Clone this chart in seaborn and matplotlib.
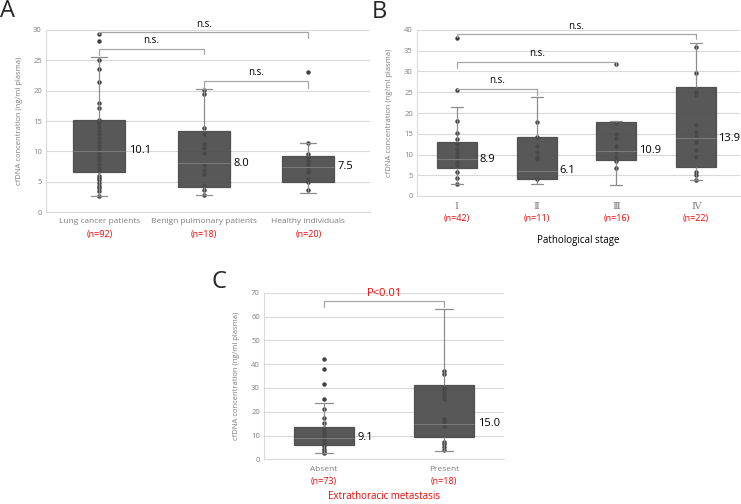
import numpy as np
import pandas as pd
import matplotlib
matplotlib.use("Agg")
import matplotlib.pyplot as plt
import seaborn as sns

# ---- panel A data ----
a_cats = ["Lung cancer patients", "Benign pulmonary patients", "Healthy individuals"]
a_n = ["(n=92)", "(n=18)", "(n=20)"]
a_lo = [2.6, 2.8, 3.1]
a_q1 = [6.6, 4.2, 5.0]
a_med = [10.1, 8.0, 7.5]
a_q3 = [15.1, 13.3, 9.3]
a_hi = [25.5, 20.2, 11.3]
a_pts = [
    [29.4, 28.2, 25.1, 23.6, 21.4, 17.9, 17.1, 15.2, 14.6, 14.0, 13.4, 12.8, 12.2, 11.5,
     10.9, 10.3, 9.7, 9.1, 8.5, 7.9, 7.3, 6.7, 6.0, 5.6, 5.3, 4.8, 4.3, 3.9, 3.5, 2.6],
    [20.1, 19.4, 13.9, 12.9, 11.2, 10.5, 9.7, 7.7, 6.9, 6.3, 4.3, 3.6, 2.8],
    [23.0, 11.3, 9.6, 9.0, 8.4, 7.8, 7.2, 6.6, 5.5, 5.0, 3.6],
]

# ---- panel B data ----
b_cats = ["Ⅰ", "Ⅱ", "Ⅲ", "Ⅳ"]
b_n = ["(n=42)", "(n=11)", "(n=16)", "(n=22)"]
b_lo = [3.0, 2.8, 2.7, 3.8]
b_q1 = [6.8, 4.2, 8.7, 7.1]
b_med = [8.9, 6.1, 10.9, 13.9]
b_q3 = [13.0, 14.3, 17.9, 26.3]
b_hi = [21.4, 23.8, 18.1, 36.9]
b_pts = [
    [38.0, 25.6, 18.0, 15.3, 13.8, 12.5, 11.4, 10.4, 9.5, 8.2, 7.4, 5.8, 4.4, 3.0],
    [17.9, 14.3, 12.0, 10.5, 9.4, 8.8, 4.0],
    [31.9, 17.5, 15.0, 14.0, 12.0, 10.5, 9.5, 8.5, 6.7],
    [35.8, 29.6, 25.0, 24.3, 17.0, 15.5, 14.5, 13.0, 11.0, 9.5, 5.8, 5.1, 3.8],
]

# ---- panel C data ----
c_cats = ["Absent", "Present"]
c_n = ["(n=73)", "(n=18)"]
c_lo = [2.5, 3.6]
c_q1 = [6.0, 9.4]
c_med = [9.1, 15.0]
c_q3 = [13.4, 31.2]
c_hi = [23.6, 63.2]
c_pts = [
    [42.0, 37.9, 31.8, 25.5, 21.3, 17.2, 15.3, 13.0, 12.0, 11.0, 10.0, 9.0, 8.0, 7.0,
     5.4, 4.5, 3.6, 2.5],
    [37.0, 35.8, 30.0, 29.0, 28.0, 26.8, 25.3, 17.0, 15.5, 14.0, 7.1, 6.3, 5.3, 3.8],
]

# brackets: (from, to, y, left end, right end, label)
a_brackets = [(0, 2, 29.6, 29.4, 28.6, "n.s."), (0, 1, 26.9, 25.9, 26.0, "n.s."),
              (1, 2, 21.6, 20.5, 20.5, "n.s.")]
b_brackets = [(0, 3, 39.0, 38.4, 37.8, "n.s."), (0, 2, 32.3, 30.8, 31.5, "n.s."),
              (0, 1, 25.8, 25.5, 24.3, "n.s.")]
c_brackets = [(0, 1, 66.4, 64.0, 64.0, "P<0.01")]

sns.set_style("white")
plt.rcParams["font.family"] = ["Open Sans", "DejaVu Sans"]

W, H = 741, 504
fig = plt.figure(figsize=(W / 100, H / 100), dpi=100)


def px_axes(x0, x1, ytop, ybot):
    return fig.add_axes([x0 / W, 1 - ybot / H, (x1 - x0) / W, (ybot - ytop) / H])


GRID = "#d9d9d9"
TICK = "#7f7f7f"
FILL = (0.29, 0.29, 0.29, 0.92)


def draw_panel(ax, cats, lo, q1, med, q3, hi, pts, ymax, ystep, xlim, nlab,
               brackets, br_color="black", cat_family=None, cat_size=6):
    box_df = pd.DataFrame({
        "cat": np.repeat(cats, 5),
        "val": np.column_stack([lo, q1, med, q3, hi]).ravel(),
    })
    pt_df = pd.DataFrame({
        "cat": np.concatenate([[c] * len(p) for c, p in zip(cats, pts)]),
        "val": np.concatenate(pts),
    })
    sns.stripplot(data=pt_df, x="cat", y="val", order=cats, jitter=False,
                  color="#404040", size=3.2, ax=ax, zorder=1)
    sns.boxplot(data=box_df, x="cat", y="val", order=cats, whis=(0, 100),
                width=0.5, showfliers=False, ax=ax, linewidth=0.9,
                boxprops=dict(facecolor=FILL, edgecolor=FILL),
                medianprops=dict(color="#7a7a7a", linewidth=0.8),
                whiskerprops=dict(color="#8c8c8c", linewidth=0.9),
                capprops=dict(color="#8c8c8c", linewidth=0.9),
                capwidths=0.15)
    for i, m in enumerate(med):
        ax.text(i + 0.28, m, f"{m:.1f}", ha="left", va="center", fontsize=8, color="black")

    ax.set_xlim(*xlim)
    ax.set_ylim(0, ymax)
    ax.set_yticks(np.arange(0, ymax + 0.1, ystep))
    ax.yaxis.grid(True, color=GRID, linewidth=0.8)
    ax.set_axisbelow(True)
    for s in ["top", "right"]:
        ax.spines[s].set_visible(False)
    for s in ["left", "bottom"]:
        ax.spines[s].set_color(GRID)
        ax.spines[s].set_linewidth(0.8)
    ax.tick_params(axis="both", length=0, labelsize=5.5, labelcolor=TICK)
    ax.tick_params(axis="y", pad=3)
    ax.tick_params(axis="x", pad=4.5)
    ax.set_xlabel("")
    ax.set_xticks(range(len(cats)))
    ax.set_xticklabels(cats, family=cat_family or ["Open Sans", "DejaVu Sans"],
                       fontsize=cat_size, color=TICK)
    ax.set_ylabel("cfDNA concentration (ng/ml plasma)", fontsize=5.5, color=TICK)
    for i, t in enumerate(nlab):
        ax.annotate(t, xy=(i, 0), xycoords=("data", "axes fraction"),
                    xytext=(0, -22 * 0.72), textcoords="offset points",
                    ha="center", va="center", fontsize=6.5, color="#ff0000")
    for x1, x2, y, yl, yr, lab in brackets:
        ax.plot([x1, x1, x2, x2], [yl, y, y, yr], color="#a6a6a6", lw=0.9, clip_on=False)
        ax.text((x1 + x2) / 2, y + ymax * 0.015, lab, ha="center", va="bottom",
                fontsize=7 if lab == "n.s." else 8, color=br_color, clip_on=False)


ax_a = px_axes(46, 370, 30, 212)
draw_panel(ax_a, a_cats, a_lo, a_q1, a_med, a_q3, a_hi, a_pts, 30, 5, (-0.51, 2.59),
           a_n, a_brackets)
ax_a.yaxis.set_label_coords(-23 / 324, 0.5)

ax_b = px_axes(417, 740, 30, 196)
draw_panel(ax_b, b_cats, b_lo, b_q1, b_med, b_q3, b_hi, b_pts, 40, 5, (-0.5, 3.55),
           b_n, b_brackets, cat_family=["DejaVu Serif", "Noto Sans CJK JP"], cat_size=7)
ax_b.yaxis.set_label_coords(-24 / 323, 0.5)
ax_b.annotate("Pathological stage", xy=(0.5, 0), xycoords="axes fraction",
              xytext=(0, -44 * 0.72), textcoords="offset points",
              ha="center", va="center", fontsize=7, color="black")

ax_c = px_axes(264, 504, 292.7, 459.3)
draw_panel(ax_c, c_cats, c_lo, c_q1, c_med, c_q3, c_hi, c_pts, 70, 10, (-0.5, 1.5),
           c_n, c_brackets, br_color="#ff0000")
ax_c.yaxis.set_label_coords(-24 / 240, 0.5)
ax_c.annotate("Extrathoracic metastasis", xy=(0.5, 0), xycoords="axes fraction",
              xytext=(0, -37.5 * 0.72), textcoords="offset points",
              ha="center", va="center", fontsize=7, color="#ff0000")

fig.text(0 / W, 1 - 17 / H, "A", fontsize=17, va="baseline", ha="left")
fig.text(372 / W, 1 - 18 / H, "B", fontsize=17, va="baseline", ha="left")
fig.text(212 / W, 1 - 288 / H, "C", fontsize=17, va="baseline", ha="left")

fig.savefig("out.png", dpi=100)
